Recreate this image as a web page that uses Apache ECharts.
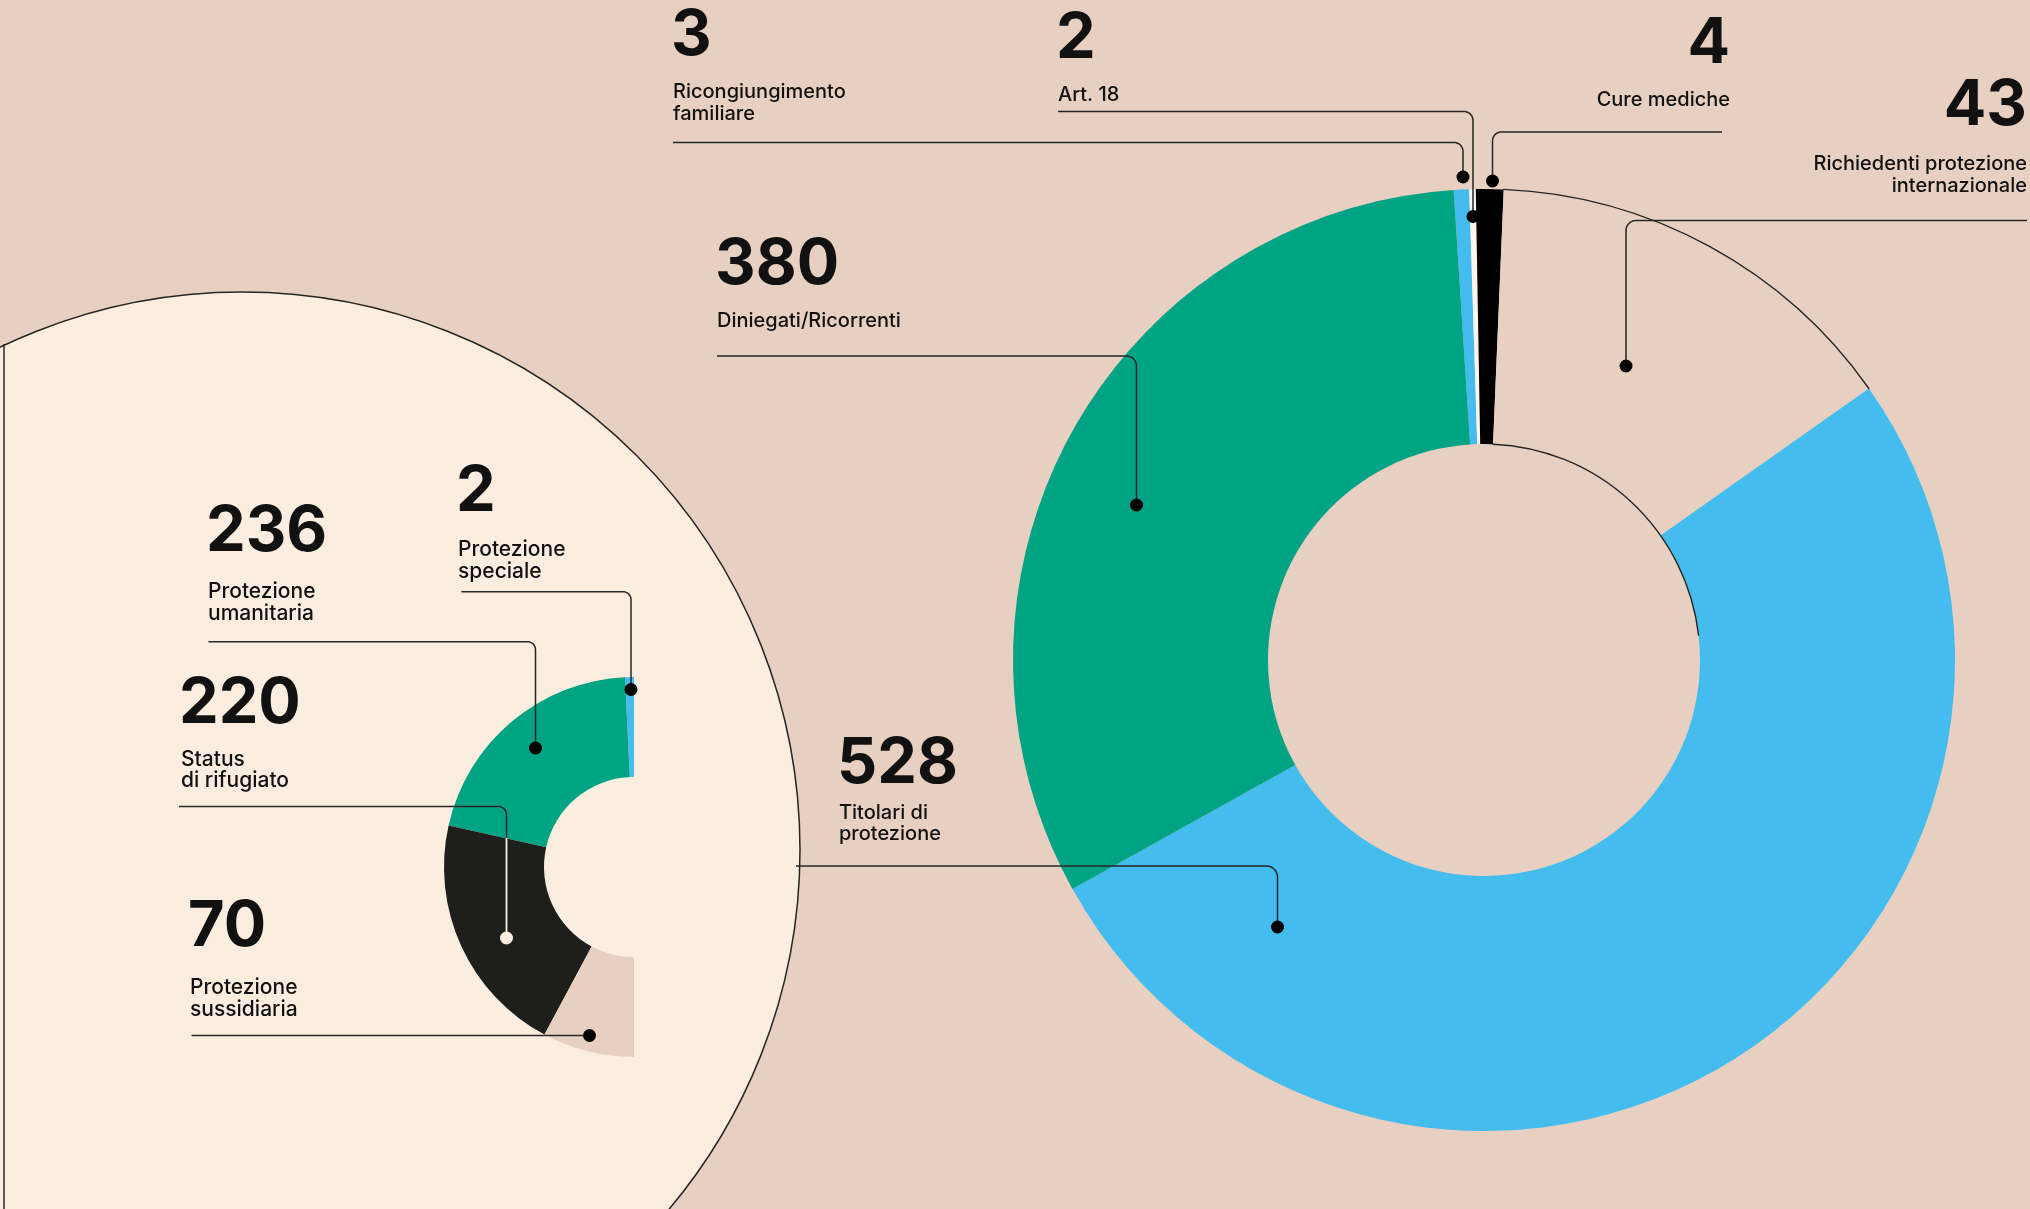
<!DOCTYPE html>
<html>
<head>
<meta charset="utf-8">
<script src="https://cdn.jsdelivr.net/npm/echarts@6/dist/echarts.min.js"></script>
<style>
  html, body { margin: 0; padding: 0; background: #e7d0c2; }
  #chart { width: 2030px; height: 1209px; }
</style>
</head>
<body>
<div id="chart"></div>
<script>
// big donut: all the people
const bigNames = ['Ricongiungimento\nfamiliare', 'Art. 18', 'Cure mediche', 'Richiedenti protezione\ninternazionale', 'Titolari di\nprotezione', 'Diniegati/Ricorrenti']
const bigValues = [3, 2, 4, 43, 528, 380]
// arc size of each slice as drawn in the picture (degrees) - the drawing is not proportional
const bigArcDeg = [1.9, 0.8, 3.4, 52.4, 186.1, 115.4]
const bigColors = ['#44bdee', '#fdf6ee', '#000000', '#e7d0c2', '#44bdee', '#00a383']
// thin rim on the hole: [before, outlined, after] in degrees
const innerRimDeg = [6.1, 81.0, 272.9]

// small half donut: breakdown of the 528 "Titolari di protezione"
const smallNames = ['Protezione\nspeciale', 'Protezione\numanitaria', 'Status\ndi rifugiato', 'Protezione\nsussidiaria']
const smallValues = [2, 236, 220, 70]
const smallArcDeg = [2.7, 74.7, 74.5, 28.1]
const smallColors = ['#44bdee', '#00a383', '#1e1e1c', '#e7d0c2']

const BIG_CENTER = [1484, 660]
const BIG_RADIUS = [216, 471]
const SMALL_CENTER = [634, 867]
const SMALL_RADIUS = [90, 190]

const chart = echarts.init(document.getElementById('chart'))

// rim series: zero width ring, only the chosen piece gets a stroke
function rim (arcs, show, r, center, start) {
  return {
    type: 'pie',
    silent: true,
    center: center,
    radius: [r, r],
    startAngle: start,
    clockwise: true,
    label: { show: false },
    labelLine: { show: false },
    emphasis: { disabled: true },
    data: arcs.map((v, i) => ({
      value: v,
      itemStyle: { color: 'transparent', borderColor: i === show ? '#262626' : 'transparent', borderWidth: 1.4 }
    }))
  }
}

// horizontal line that turns down with a rounded corner
function elbow (x0, y0, xc, yd, r) {
  const dir = xc > x0 ? 1 : -1
  const pts = [[x0, y0]]
  for (let i = 0; i <= 10; i++) {
    const a = (Math.PI / 2) * i / 10
    pts.push([xc - dir * r + dir * r * Math.sin(a), y0 + r - r * Math.cos(a)])
  }
  pts.push([xc, yd])
  return pts
}

const g = []
// cream circle behind the small donut
g.push({ type: 'circle', z: 0, shape: { cx: 242, cy: 850, r: 558 }, style: { fill: '#fcede1', stroke: '#262626', lineWidth: 1.5 } })
g.push({ type: 'line', z: 0, shape: { x1: 4, y1: 344, x2: 4, y2: 1209 }, style: { stroke: '#262626', lineWidth: 1.5 } })

function numText (txt, x, ymid, align) {
  g.push({
    type: 'text', z: 20,
    style: { text: txt, x: x, y: ymid, font: 'bold 63px Inter', fill: '#111',
      textAlign: align, align: align, textVerticalAlign: 'middle', verticalAlign: 'middle' }
  })
}
function nameText (txt, x, ymid, align, size) {
  g.push({
    type: 'text', z: 20,
    style: { text: txt, x: x, y: ymid - 10.75, font: '500 ' + size + 'px Inter', fill: '#111', lineHeight: 21.5,
      textAlign: align, align: align, textVerticalAlign: 'top', verticalAlign: 'top' }
  })
}
function leader (pts, dotColor) {
  g.push({ type: 'polyline', z: 20, shape: { points: pts }, style: { stroke: '#262626', lineWidth: 1.5, fill: null } })
  const p = pts[pts.length - 1]
  g.push({ type: 'circle', z: 21, shape: { cx: p[0], cy: p[1], r: 6.5 }, style: { fill: dotColor || '#000' } })
}

// big donut labels (same order as the arrays)
const bigLayout = [
  { x: 671, num: 36.5, name: 92, align: 'left', lead: elbow(673, 142.5, 1463, 177, 9) },
  { x: 1056, num: 39, name: 95, align: 'left', lead: elbow(1058, 111.5, 1473, 216.5, 9) },
  { x: 1730, num: 44, name: 100, align: 'right', lead: elbow(1722, 132, 1492.5, 181, 9) },
  { x: 2027, num: 106, name: 164, align: 'right', lead: elbow(2027, 220.5, 1626, 366, 10) },
  { x: 837, num: 764.5, name: 812.5, align: 'left', lead: elbow(796, 866, 1277.5, 927, 11) },
  { x: 715, num: 265, name: 321, align: 'left', lead: elbow(717, 356, 1136.5, 505, 10) }
]
bigLayout.forEach((l, i) => {
  numText(String(bigValues[i]), l.x, l.num, l.align)
  nameText(bigNames[i], l.align === 'left' ? l.x + 2 : l.x, l.name, l.align, 20)
  leader(l.lead)
})

// small donut labels
const smallLayout = [
  { x: 456, num: 492.5, name: 550, lead: elbow(461.5, 591.7, 631, 689.5, 8) },
  { x: 206, num: 532.5, name: 592, lead: elbow(208.5, 641.7, 535.5, 748, 8) },
  { x: 179, num: 704, name: 759.5, lead: elbow(179, 806.5, 506.5, 938, 8) },
  { x: 188, num: 927, name: 988, lead: [[191.5, 1035.5], [589.5, 1035.5]] }
]
smallLayout.forEach((l, i) => {
  numText(String(smallValues[i]), l.x, l.num, 'left')
  nameText(smallNames[i], l.x + 2, l.name, 'left', 21)
  leader(l.lead, i === 2 ? '#fdf0dc' : '#000')
})
// inside the black slice the rifugiato leader turns light
g.push({ type: 'line', z: 22, shape: { x1: 506.5, y1: 838, x2: 506.5, y2: 934 }, style: { stroke: '#fdf0dc', lineWidth: 1.8 } })

const smallFill = 360 - smallArcDeg.reduce((a, b) => a + b, 0)

const option = {
  backgroundColor: '#e7d0c2',
  animation: false,
  graphic: { elements: g },
  series: [
    {
      type: 'pie',
      silent: true,
      center: BIG_CENTER,
      radius: BIG_RADIUS,
      startAngle: 93.7,
      clockwise: true,
      label: { show: false },
      labelLine: { show: false },
      emphasis: { disabled: true },
      itemStyle: { borderWidth: 0 },
      data: bigArcDeg.map((v, i) => ({ name: bigNames[i], value: v, itemStyle: { color: bigColors[i] } }))
    },
    rim(bigArcDeg, 3, BIG_RADIUS[1], BIG_CENTER, 93.7),
    rim(innerRimDeg, 1, BIG_RADIUS[0], BIG_CENTER, 93.7),
    {
      type: 'pie',
      silent: true,
      center: SMALL_CENTER,
      radius: SMALL_RADIUS,
      startAngle: 90,
      clockwise: false,
      label: { show: false },
      labelLine: { show: false },
      emphasis: { disabled: true },
      itemStyle: { borderWidth: 0 },
      data: smallArcDeg.map((v, i) => ({ name: smallNames[i], value: v, itemStyle: { color: smallColors[i] } }))
        .concat([{ name: '', value: smallFill, itemStyle: { color: 'transparent' } }])
    }
  ]
}
chart.setOption(option)
</script>
</body>
</html>
